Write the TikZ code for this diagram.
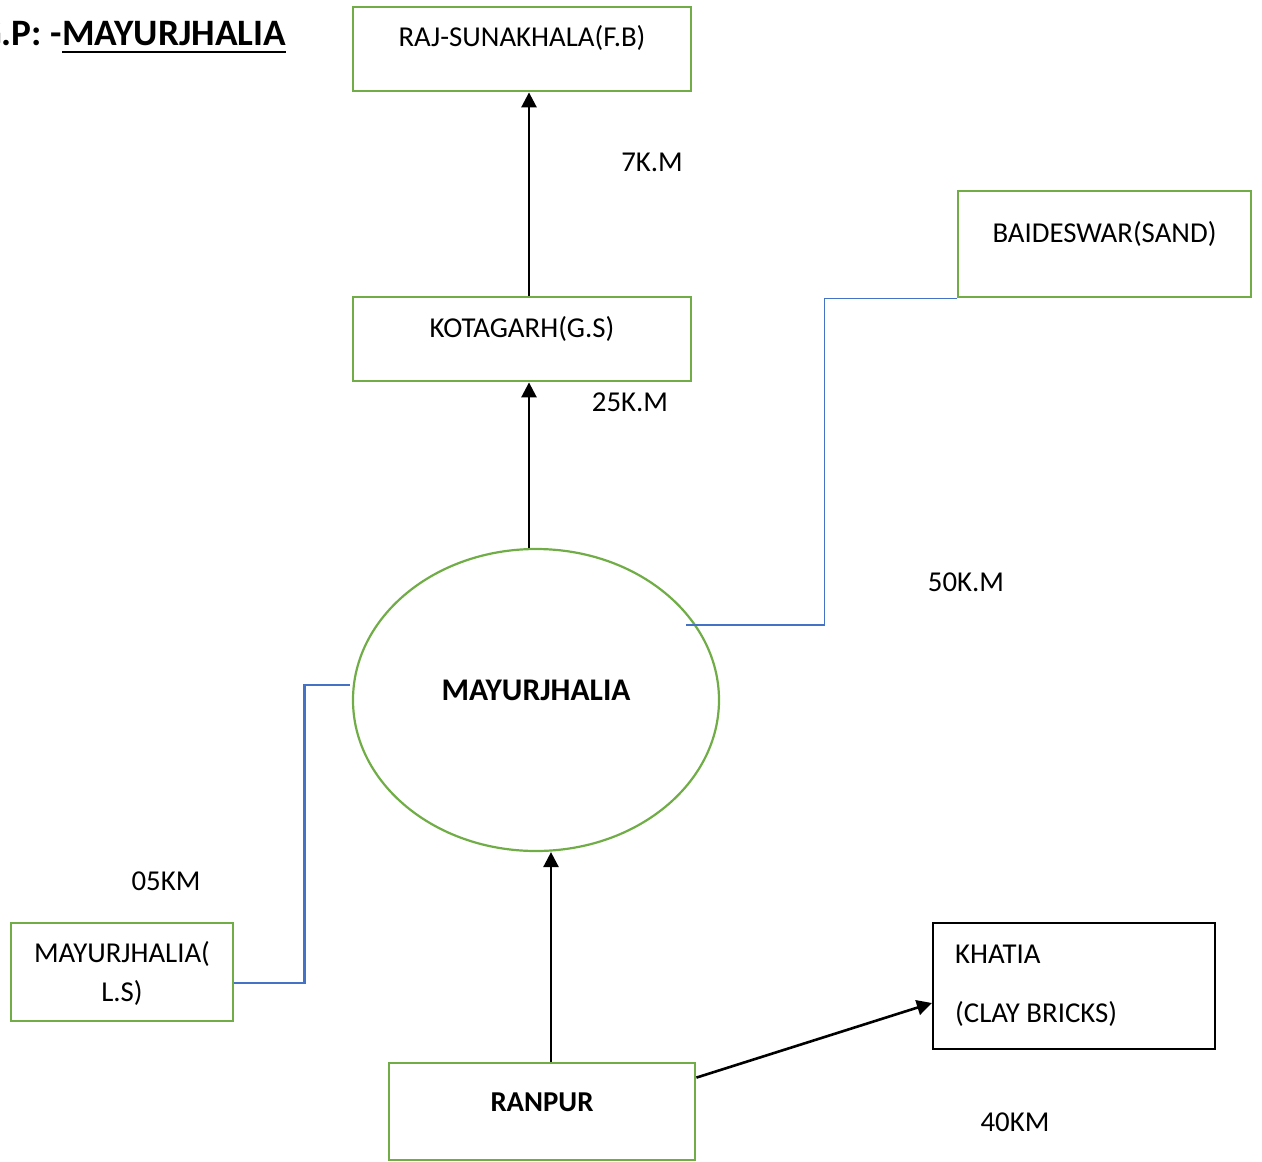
\documentclass[tikz,border=0pt]{standalone}
\usepackage{fontspec}
\setmainfont{Carlito}
\usetikzlibrary{arrows.meta,shapes.geometric,calc}
\definecolor{bxgreen}{HTML}{70AD47}
\definecolor{lnblue}{HTML}{4472C4}
\begin{document}
\begin{tikzpicture}[x=1pt,y=-1pt,
  gbox/.style={draw=bxgreen,line width=2.8pt,rectangle,inner sep=0pt},
  txt/.style={inner sep=0pt,font=\fontsize{28.8}{34}\selectfont},
  btxt/.style={inner sep=0pt,font=\fontsize{31.5}{36}\selectfont\bfseries},
  arr/.style={line width=2.6pt,-{Triangle[length=15pt,width=15pt]}},
  blu/.style={draw=lnblue}]
\useasboundingbox (0,0) rectangle (1262,1162);
% title
\node[anchor=base west,inner sep=0pt,font=\fontsize{37.3}{40}\selectfont\bfseries] (ttl) at (62,45) {MAYURJHALIA};
\node[anchor=base east,inner sep=0pt,font=\fontsize{37.3}{40}\selectfont\bfseries] (ttlpre) at (ttl.base west) {G.P: -};
\draw[line width=2.6pt] ($(ttl.base west)+(0,7)$) coordinate (ul1) -- ($(ttl.base east)+(0,7)$) coordinate (ul2);
% boxes
\node[gbox,minimum width=338pt,minimum height=84pt] (raj) at (522,49) {};
\node[txt] (rajt) at (522,38) {RAJ-SUNAKHALA(F.B)};
\node[gbox,minimum width=338pt,minimum height=84pt] (kota) at (522,339) {};
\node[txt] (kotat) at (522,329) {KOTAGARH(G.S)};
\node[gbox,minimum width=293pt,minimum height=106pt] (baid) at (1104.5,244) {};
\node[txt] (baidt) at (1104.5,234) {BAIDESWAR(SAND)};
\node[draw=bxgreen,line width=2.2pt,ellipse,minimum width=366pt,minimum height=302pt,inner sep=0pt] (ell) at (536,700) {};
\node[btxt] (ellt) at (536,690) {MAYURJHALIA};
\node[gbox,minimum width=222pt,minimum height=98pt] (ls) at (122,972) {};
\node[txt] (lst1) at (122,954) {MAYURJHALIA(};
\node[txt] (lst2) at (122,993) {L.S)};
\node[gbox,minimum width=306pt,minimum height=97pt] (ran) at (542,1111.5) {};
\node[inner sep=0pt,font=\fontsize{28.8}{34}\selectfont\bfseries] (rant) at (542,1102) {RANPUR};
\node[draw=black,line width=2.2pt,rectangle,inner sep=0pt,minimum width=282pt,minimum height=126pt] (kha) at (1074,986) {};
\node[txt,anchor=west] (khat1) at (955,954) {KHATIA};
\node[txt,anchor=west] (khat2) at (955,1014) {(CLAY BRICKS)};
% labels
\node[txt] (l7) at (652,162) {7K.M};
\node[txt] (l25) at (630,402) {25K.M};
\node[txt] (l50) at (966,582) {50K.M};
\node[txt] (l05) at (166,881) {05KM};
\node[txt] (l40) at (1015,1122) {40KM};
% arrows
\draw[arr] ($(kota.north)+(7,0)$) -- ($(raj.south)+(7,0)$);
\draw[arr] ($(ell.north)+(-7,0)$) -- ($(kota.south)+(7,0)$);
\draw[arr] ($(ran.north)+(9,0)$) -- ($(ell.south)+(15,0)$);
\draw[arr] ($(ran.north east)+(0,16)$) -- ($(kha.west)+(0,17)$);
% blue connectors
\coordinate (rs) at ($(ell.center)+(150,-75)$);
\coordinate (rb) at ($(baid.south west)+(-132,0)$);
\draw[blu,line width=1.3pt] (rs) -| (rb) -- (baid.south west);
\coordinate (lsrt) at ($(ell.west)+(-2,-15)$);
\coordinate (lsend) at ($(ls.east)+(0,11)$);
\coordinate (lb) at ($(lsend)+(70,0)$);
\draw[blu,line width=2.5pt] (lsrt) -| (lb) -- (lsend);
\end{tikzpicture}
\end{document}
